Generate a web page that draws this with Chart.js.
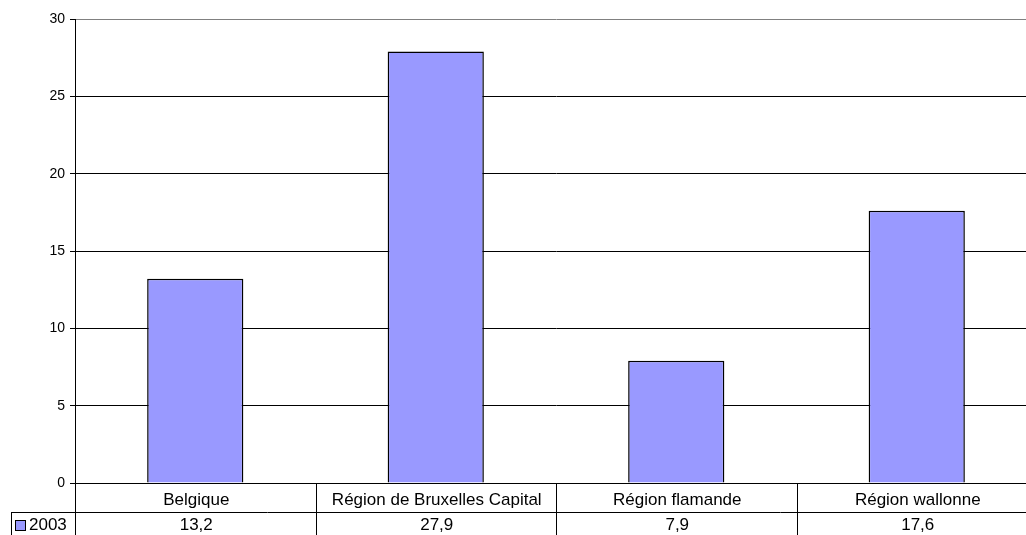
<!DOCTYPE html>
<html>
<head>
<meta charset="utf-8">
<script src="https://cdn.jsdelivr.net/npm/chart.js@4/dist/chart.umd.min.js"></script>
<style>
  body { margin: 0; background: #fff; }
  #wrap { width: 1026px; height: 535px; overflow: hidden; }
</style>
</head>
<body>
<div id="wrap"><canvas id="chart" width="1040" height="535"></canvas></div>
<script>
var categories = ['Belgique', 'Région de Bruxelles Capital', 'Région flamande', 'Région wallonne'];
var seriesName = '2003';
var values2003 = [13.2, 27.9, 7.9, 17.6];

var FONT = '"Liberation Sans", Arial, sans-serif';
var BAR_FILL = '#9999FF';

function formatValue(v) {
  return v.toFixed(1).replace('.', ',');
}

// data table under the plot (Excel style)
var dataTablePlugin = {
  id: 'dataTable',
  afterDraw: function (chart) {
    var ctx = chart.ctx;
    var area = chart.chartArea;
    var xScale = chart.scales.x;
    var n = categories.length;
    var catWidth = (area.right - area.left) / n;
    var row1Bottom = area.bottom + 29;
    var bottom = chart.height;

    ctx.save();
    ctx.strokeStyle = '#000';
    ctx.lineWidth = 1;

    // horizontal line between the two rows, starting at legend cell
    ctx.beginPath();
    ctx.moveTo(11, Math.round(row1Bottom) + 0.5);
    ctx.lineTo(area.right, Math.round(row1Bottom) + 0.5);
    ctx.stroke();

    // legend cell left border
    ctx.beginPath();
    ctx.moveTo(11.5, Math.round(row1Bottom));
    ctx.lineTo(11.5, bottom);
    ctx.stroke();

    // vertical lines at category boundaries
    for (var i = 0; i <= n; i++) {
      var bx = Math.round(area.left + i * catWidth) + 0.5;
      ctx.beginPath();
      ctx.moveTo(bx, area.bottom);
      ctx.lineTo(bx, bottom);
      ctx.stroke();
    }

    // texts
    ctx.fillStyle = '#000';
    ctx.font = '17px ' + FONT;
    ctx.textAlign = 'center';
    ctx.textBaseline = 'alphabetic';
    for (var j = 0; j < n; j++) {
      var cx = xScale.getPixelForValue(j) + 1;
      ctx.fillText(categories[j], cx, area.bottom + 22);
      ctx.fillText(formatValue(values2003[j]), cx, row1Bottom + 18);
    }

    // legend key
    ctx.fillStyle = BAR_FILL;
    ctx.fillRect(15.5, row1Bottom + 8.5, 10, 10);
    ctx.strokeRect(15.5, row1Bottom + 8.5, 10, 10);
    ctx.fillStyle = '#000';
    ctx.textAlign = 'left';
    ctx.fillText(seriesName, 29, row1Bottom + 18);

    ctx.restore();
  }
};

var chart = new Chart(document.getElementById('chart').getContext('2d'), {
  type: 'bar',
  data: {
    labels: categories,
    datasets: [{
      label: seriesName,
      data: values2003,
      backgroundColor: BAR_FILL,
      borderColor: '#000',
      borderWidth: 1.5,
      categoryPercentage: 1,
      barPercentage: 0.4
    }]
  },
  options: {
    responsive: false,
    animation: false,
    layout: { padding: { left: 0, top: 19, right: 3, bottom: 52 } },
    plugins: {
      legend: { display: false },
      tooltip: { enabled: false }
    },
    scales: {
      x: {
        display: false
      },
      y: {
        min: 0,
        max: 30,
        ticks: {
          stepSize: 5,
          color: '#000',
          padding: 5,
          font: { family: FONT, size: 14 }
        },
        grid: {
          color: function (c) { return c.tick && c.tick.value === 30 ? '#808080' : '#000'; },
          tickColor: '#000',
          tickLength: 5
        },
        border: { color: '#000' },
        afterFit: function (scale) { scale.width = 75; }
      }
    }
  },
  plugins: [dataTablePlugin]
});
</script>
</body>
</html>
